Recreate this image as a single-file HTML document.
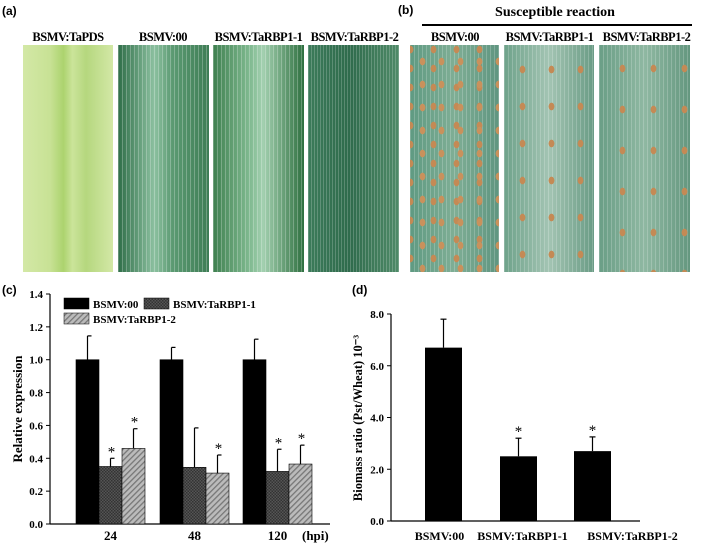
<!DOCTYPE html>
<html><head><meta charset="utf-8">
<style>
body{margin:0;background:#fff;width:709px;height:549px;overflow:hidden;position:relative;font-family:"Liberation Serif",serif}
.lab{position:absolute;font-family:"Liberation Sans",sans-serif;font-size:12px;font-weight:bold}
.pl{position:absolute;top:30px;font-weight:bold;font-size:12.5px;text-align:center;white-space:nowrap;letter-spacing:-0.5px}
.ph{position:absolute;top:45px;height:227px}
</style></head><body>
<div class="lab" style="left:2px;top:4px">(a)</div>
<div class="lab" style="left:398px;top:3px">(b)</div>
<div class="pl" style="left:450px;top:5px;width:210px;font-size:14px;letter-spacing:0">Susceptible reaction</div>
<div style="position:absolute;left:422px;top:24px;width:270px;height:2px;background:#000"></div>

<div class="pl" style="left:18px;width:100px">BSMV:TaPDS</div>
<div class="pl" style="left:113px;width:100px">BSMV:00</div>
<div class="pl" style="left:206px;width:105px">BSMV:TaRBP1-1</div>
<div class="pl" style="left:302px;width:105px">BSMV:TaRBP1-2</div>
<div class="pl" style="left:405px;width:100px">BSMV:00</div>
<div class="pl" style="left:497px;width:105px">BSMV:TaRBP1-1</div>
<div class="pl" style="left:594px;width:105px">BSMV:TaRBP1-2</div>

<div class="ph" style="left:23px;width:90px;background:linear-gradient(90deg,#d3e8a6 0%,#c8e295 30%,#acd36e 45%,#cbe49a 55%,#b5d77e 70%,#d3e8a6 100%)"></div>
<div class="ph" style="left:118px;width:91px;background:repeating-linear-gradient(90deg,rgba(255,255,255,.25) 0 1px,rgba(0,0,0,0) 1px 4px),linear-gradient(90deg,#2f6e48,#8cc0a0 40%,#5b9a72 60%,#3e7d55)"></div>
<div class="ph" style="left:213px;width:91px;background:repeating-linear-gradient(90deg,rgba(255,255,255,.25) 0 1px,rgba(0,0,0,0) 1px 4px),linear-gradient(90deg,#3f8050,#7fb98f 40%,#a3d0b0 55%,#2f7040)"></div>
<div class="ph" style="left:308px;width:91px;background:repeating-linear-gradient(90deg,rgba(255,255,255,.2) 0 1px,rgba(0,0,0,0) 1px 3px),linear-gradient(90deg,#3c7b5a,#2f6b4c 45%,#4f8a68)"></div>
<div class="ph" style="left:410px;width:89px;background:radial-gradient(ellipse 3px 4px,#c9915c 90%,transparent) 3px 5px/19px 23px,radial-gradient(ellipse 3px 4px,#c48a55 90%,transparent) 12px 14px/23px 19px,repeating-linear-gradient(90deg,rgba(255,255,255,.2) 0 1px,rgba(0,0,0,0) 1px 4px),linear-gradient(90deg,#5f9a82,#7fae95 50%,#5f9580)"></div>
<div class="ph" style="left:504px;width:90px;background:radial-gradient(ellipse 3px 4px,#c48a55 90%,transparent) 4px 6px/29px 37px,repeating-linear-gradient(90deg,rgba(255,255,255,.2) 0 1px,rgba(0,0,0,0) 1px 4px),linear-gradient(90deg,#6ea28a,#a3c4b3 50%,#6a9c85)"></div>
<div class="ph" style="left:599px;width:91px;background:radial-gradient(ellipse 3px 4px,#c48a55 90%,transparent) 8px 3px/31px 41px,repeating-linear-gradient(90deg,rgba(255,255,255,.2) 0 1px,rgba(0,0,0,0) 1px 4px),linear-gradient(90deg,#6a9e86,#8fb8a2 50%,#64977f)"></div>

<div class="lab" style="left:2px;top:283px">(c)</div>
<div class="lab" style="left:352px;top:283px">(d)</div>

<svg id="c" width="709" height="549" style="position:absolute;left:0;top:0" font-family="Liberation Serif" font-weight="bold">
<defs>
<pattern id="chk" width="3" height="3" patternUnits="userSpaceOnUse"><rect width="3" height="3" fill="#555"/><rect width="1.5" height="1.5" fill="#333"/><rect x="1.5" y="1.5" width="1.5" height="1.5" fill="#333"/></pattern>
<pattern id="hat" width="4" height="4" patternUnits="userSpaceOnUse" patternTransform="rotate(45)"><rect width="4" height="4" fill="#bbb"/><rect width="1.3" height="4" fill="#777"/></pattern>
</defs>
</svg>
<script>
const groups=["24","48","120"];
const s00=[1.0,1.0,1.0], s00e=[0.145,0.075,0.125];
const s11=[0.35,0.345,0.32], s11e=[0.05,0.24,0.135];
const s12=[0.46,0.31,0.365], s12e=[0.12,0.11,0.115];
const star11=[true,false,true], star12=[true,true,true];
const cTicks=[0,0.2,0.4,0.6,0.8,1.0,1.2,1.4];
const dCats=["BSMV:00","BSMV:TaRBP1-1","BSMV:TaRBP1-2"];
const dVals=[6.7,2.5,2.7], dErr=[1.1,0.7,0.55], dStar=[false,true,true];
const dTicks=[0,2,4,6,8];
const svg=document.getElementById('c');
const NS='http://www.w3.org/2000/svg';
function mk(t,a,txt){const e=document.createElementNS(NS,t);for(const k in a)e.setAttribute(k,a[k]);if(txt!=null)e.textContent=txt;svg.appendChild(e);return e;}
const cy=v=>524-v/1.4*230;
let e=mk('line',{x1:50,y1:294,x2:50,y2:524,stroke:'#000','stroke-width':1.2});

e=mk('line',{x1:50,y1:524,x2:330,y2:524,stroke:'#000','stroke-width':1.2});

cTicks.forEach(t=>{const y=cy(t);
 e=mk('line',{x1:46,y1:y,x2:50,y2:y,stroke:'#000'});
 e=mk('text',{x:43,y:y+4,'text-anchor':'end','font-size':11},t.toFixed(1));});
e=mk('text',{x:0,y:0,'font-size':13,'text-anchor':'middle',transform:'translate(22,409) rotate(-90)'},'Relative expression');

const starts=[76,160,243], bw=23;
const series=[[s00,s00e,'#000',null,'bar-bsmv00'],[s11,s11e,'url(#chk)',star11,'bar-tarbp1-1'],[s12,s12e,'url(#hat)',star12,'bar-tarbp1-2']];
groups.forEach((g,i)=>{
 series.forEach((s,j)=>{const x=starts[i]+j*bw, v=s[0][i], er=s[1][i];
  e=mk('line',{x1:x+bw/2,y1:cy(v),x2:x+bw/2,y2:cy(v+er),stroke:'#000','stroke-width':1.2});
  e=mk('line',{x1:x+bw/2,y1:cy(v+er),x2:x+bw/2+4,y2:cy(v+er),stroke:'#000','stroke-width':1.2});
  e=mk('rect',{x:x,y:cy(v),width:bw,height:cy(0)-cy(v),fill:s[2],stroke:'#000','stroke-width':0.6});
  if(s[3]&&s[3][i]){e=mk('text',{x:x+bw/2+1,y:cy(v+er)-2,'text-anchor':'middle','font-size':15,'font-weight':'normal'},'*');}
 });
 e=mk('text',{x:starts[i]+bw*1.5,y:540,'text-anchor':'middle','font-size':13},g);
});
e=mk('text',{x:302,y:540,'font-size':13},'(hpi)');
const leg=[[64,298,'#000','BSMV:00'],[144,298,'url(#chk)','BSMV:TaRBP1-1'],[64,313,'url(#hat)','BSMV:TaRBP1-2']];
leg.forEach(l=>{e=mk('rect',{x:l[0],y:l[1],width:25,height:11,fill:l[2],stroke:'#000','stroke-width':0.5});
 e=mk('text',{x:l[0]+29,y:l[1]+10,'font-size':11},l[3]);});
const dy=v=>521-v/8*207;
e=mk('line',{x1:391,y1:314,x2:391,y2:521,stroke:'#000','stroke-width':1.2});
e=mk('line',{x1:391,y1:521,x2:640,y2:521,stroke:'#000','stroke-width':1.2});
dTicks.forEach(t=>{const y=dy(t);
 e=mk('line',{x1:387,y1:y,x2:391,y2:y,stroke:'#000'});
 e=mk('text',{x:384,y:y+4,'text-anchor':'end','font-size':11},t.toFixed(1));});
e=mk('text',{x:0,y:0,'font-size':12.5,'text-anchor':'middle',transform:'translate(362,418) rotate(-90)'},'Biomass ratio (Pst/Wheat) 10⁻³');

const dStarts=[425,500,574], dbw=37, labelOffsets=[-4,4,40];
dCats.forEach((c,i)=>{const x=dStarts[i], v=dVals[i], er=dErr[i];
 e=mk('line',{x1:x+dbw/2,y1:dy(v),x2:x+dbw/2,y2:dy(v+er),stroke:'#000','stroke-width':1.2});
 e=mk('line',{x1:x+dbw/2-3,y1:dy(v+er),x2:x+dbw/2+3,y2:dy(v+er),stroke:'#000','stroke-width':1.2});
 e=mk('rect',{x:x,y:dy(v),width:dbw,height:dy(0)-dy(v),fill:'#000'});
 if(dStar[i]){e=mk('text',{x:x+dbw/2,y:dy(v+er)-2,'text-anchor':'middle','font-size':15,'font-weight':'normal'},'*');}
 e=mk('text',{x:x+dbw/2+labelOffsets[i],y:540,'text-anchor':'middle','font-size':12},c);
});
</script>
</body></html>
